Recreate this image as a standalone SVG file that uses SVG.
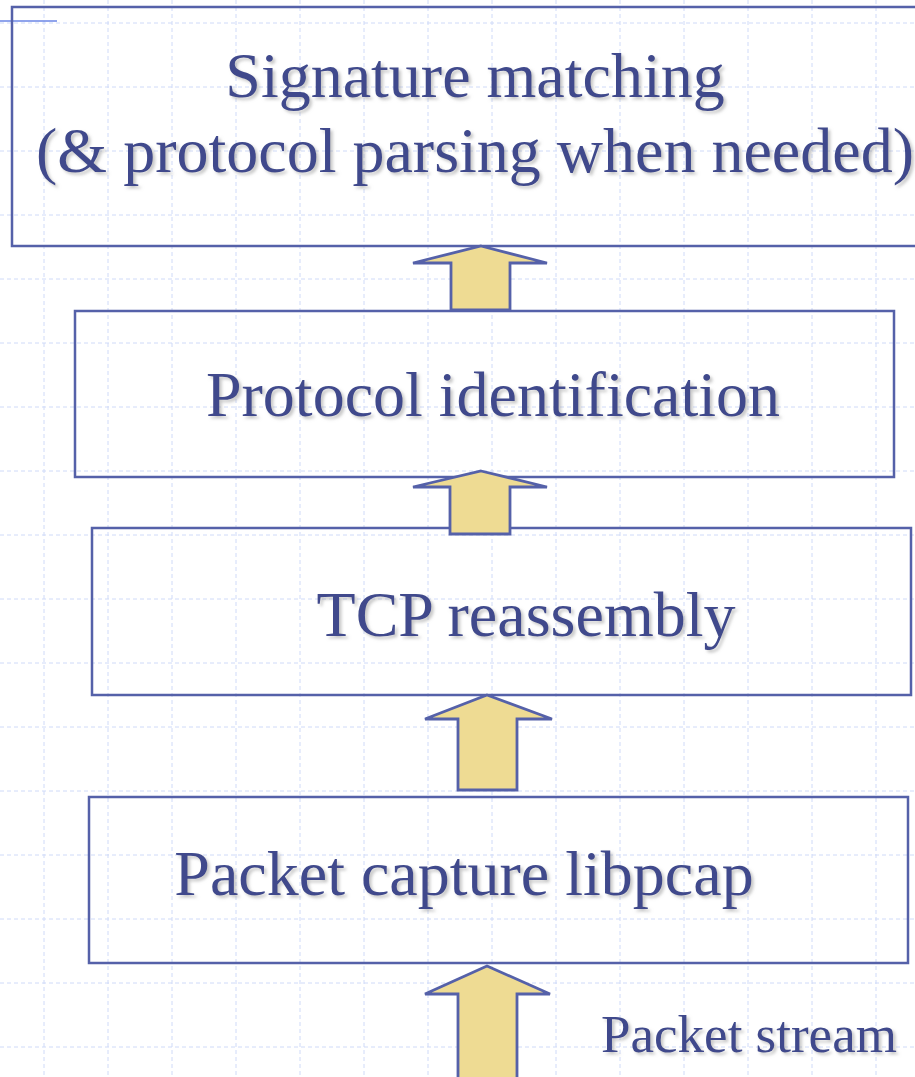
<svg xmlns="http://www.w3.org/2000/svg" width="915" height="1077" viewBox="0 0 915 1077">
  <defs>
    <style>
      .grid line { stroke: #cfdaf8; stroke-width: 1; stroke-dasharray: 4 3; }
      .box { fill: none; stroke: #5561a9; stroke-width: 2.5; }
      .arrow { fill: #eedb93; stroke: #5561a9; stroke-width: 2.8; stroke-linejoin: miter; }
      .label { font-family: "Liberation Serif", "Times New Roman", serif; font-size: 64px; fill: #3f4a8c; text-anchor: middle; filter: url(#shadow); }
    </style>
    <filter id="shadow" x="-5%" y="-20%" width="110%" height="150%">
      <feDropShadow dx="2.5" dy="2.5" stdDeviation="1.5" flood-color="#9a9a9a" flood-opacity="0.55"/>
    </filter>
  </defs>

  <rect width="915" height="1077" fill="#ffffff"/>

  <!-- background grid -->
  <g class="grid">
    <line x1="44" y1="0" x2="44" y2="1077"/>
    <line x1="108" y1="0" x2="108" y2="1077"/>
    <line x1="172" y1="0" x2="172" y2="1077"/>
    <line x1="236" y1="0" x2="236" y2="1077"/>
    <line x1="300" y1="0" x2="300" y2="1077"/>
    <line x1="364" y1="0" x2="364" y2="1077"/>
    <line x1="428" y1="0" x2="428" y2="1077"/>
    <line x1="492" y1="0" x2="492" y2="1077"/>
    <line x1="556" y1="0" x2="556" y2="1077"/>
    <line x1="620" y1="0" x2="620" y2="1077"/>
    <line x1="684" y1="0" x2="684" y2="1077"/>
    <line x1="748" y1="0" x2="748" y2="1077"/>
    <line x1="812" y1="0" x2="812" y2="1077"/>
    <line x1="876" y1="0" x2="876" y2="1077"/>
    <line x1="0" y1="23" x2="915" y2="23"/>
    <line x1="0" y1="87" x2="915" y2="87"/>
    <line x1="0" y1="151" x2="915" y2="151"/>
    <line x1="0" y1="215" x2="915" y2="215"/>
    <line x1="0" y1="279" x2="915" y2="279"/>
    <line x1="0" y1="343" x2="915" y2="343"/>
    <line x1="0" y1="407" x2="915" y2="407"/>
    <line x1="0" y1="471" x2="915" y2="471"/>
    <line x1="0" y1="535" x2="915" y2="535"/>
    <line x1="0" y1="599" x2="915" y2="599"/>
    <line x1="0" y1="663" x2="915" y2="663"/>
    <line x1="0" y1="727" x2="915" y2="727"/>
    <line x1="0" y1="791" x2="915" y2="791"/>
    <line x1="0" y1="855" x2="915" y2="855"/>
    <line x1="0" y1="919" x2="915" y2="919"/>
    <line x1="0" y1="983" x2="915" y2="983"/>
    <line x1="0" y1="1047" x2="915" y2="1047"/>
  </g>

  <!-- corner accent -->
  <line x1="0" y1="21" x2="57" y2="21" stroke="#6b86e6" stroke-width="1.5"/>

  <!-- layers -->
  <g id="signature-matching">
    <rect class="box" x="12" y="7" width="930" height="239"/>
    <text class="label" x="475" y="97">Signature matching</text>
    <text class="label" x="475" y="172">(&amp; protocol parsing when needed)</text>
  </g>

  <g id="protocol-identification">
    <rect class="box" x="75" y="311" width="819" height="166"/>
    <text class="label" x="493" y="416">Protocol identification</text>
  </g>

  <g id="tcp-reassembly">
    <rect class="box" x="92" y="528" width="819" height="167"/>
    <text class="label" x="526" y="636">TCP reassembly</text>
  </g>

  <g id="packet-capture">
    <rect class="box" x="89" y="797" width="819" height="166"/>
    <text class="label" x="464" y="895">Packet capture libpcap</text>
  </g>

  <g id="packet-stream">
    <text class="label" x="749" y="1052" style="font-size:53px">Packet stream</text>
  </g>

  <!-- upward flow arrows -->
  <g id="connectors">
    <polygon class="arrow" points="481,246 547,263 510,263 510,310 451,310 451,263 413,263"/>
    <polygon class="arrow" points="481,471 547,487 510,487 510,534 450,534 450,487 413,487"/>
    <polygon class="arrow" points="487,695 552,719 517,719 517,790 458,790 458,719 425,719"/>
    <polygon class="arrow" points="487,966 550,994 517,994 517,1085 458,1085 458,994 425,994"/>
  </g>
</svg>
